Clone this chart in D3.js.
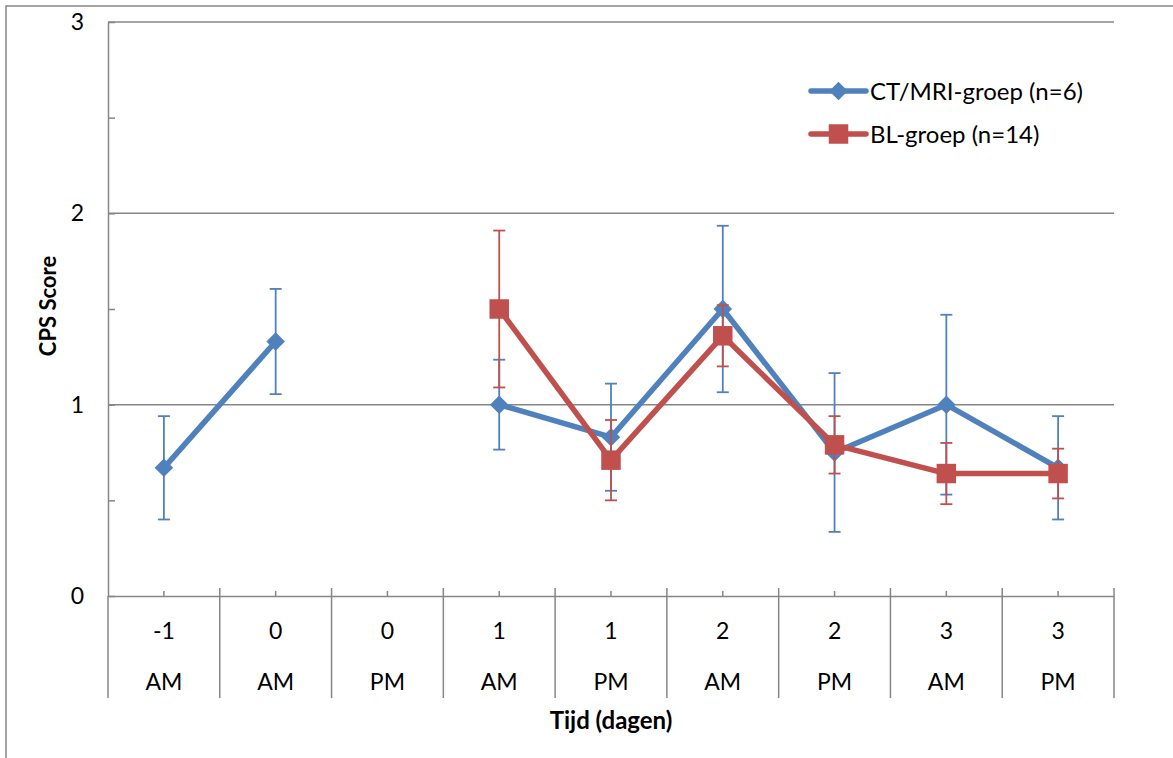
<!DOCTYPE html>
<html>
<head>
<meta charset="utf-8">
<script src="https://cdn.jsdelivr.net/npm/d3@7"></script>
<style>
  html, body { margin: 0; padding: 0; background: #fff; }
  svg { display: block; font-family: Lato, "Open Sans", sans-serif; }
</style>
</head>
<body>
<svg id="chart" width="1173" height="758"></svg>
<script>
// Category axis: day number (first row) and part of day (second row)
const dayLabels = ["-1", "0", "0", "1", "1", "2", "2", "3", "3"];
const periodLabels = ["AM", "AM", "PM", "AM", "PM", "AM", "PM", "AM", "PM"];

// Mean CPS score per moment (null = no measurement)
const ctMriMeans = [0.67, 1.33, null, 1.00, 0.83, 1.50, 0.75, 1.00, 0.67];
const ctMriErr   = [0.27, 0.275, null, 0.235, 0.28, 0.435, 0.415, 0.47, 0.27];
const blMeans    = [null, null, null, 1.50, 0.71, 1.36, 0.79, 0.64, 0.64];
const blErr      = [null, null, null, 0.41, 0.21, 0.16, 0.15, 0.16, 0.13];

const seriesNames = ["CT/MRI-groep (n=6)", "BL-groep (n=14)"];
const yTicks = [0, 0.5, 1, 1.5, 2, 2.5, 3];

const BLUE = "#4F81BD", RED = "#C0504D", GREY = "#868686";

const svg = d3.select("#chart");
const plotLeft = 108, plotRight = 1114, plotTop = 22, plotBottom = 596;

const x = d3.scaleBand().domain(d3.range(dayLabels.length)).range([plotLeft, plotRight]).padding(0);
const xc = i => x(i) + x.bandwidth() / 2;
const y = d3.scaleLinear().domain([0, 3]).range([plotBottom, plotTop]);

// outer chart frame
svg.append("rect")
  .attr("x", 6).attr("y", 6).attr("width", 1300).attr("height", 900)
  .attr("fill", "none").attr("stroke", GREY).attr("stroke-width", 1.5);

// horizontal gridlines
svg.append("g").selectAll("line").data([1, 2, 3]).join("line")
  .attr("x1", plotLeft).attr("x2", plotRight)
  .attr("y1", d => y(d)).attr("y2", d => y(d))
  .attr("stroke", GREY).attr("stroke-width", 1.5);

// y axis
const yAxis = svg.append("g").attr("transform", `translate(${plotLeft},0)`)
  .call(d3.axisLeft(y).tickValues(yTicks)
    .tickFormat(d => Number.isInteger(d) ? d : "")
    .tickSizeInner(-7).tickSizeOuter(0).tickPadding(24));
yAxis.select(".domain").attr("stroke", GREY).attr("stroke-width", 1.5);
yAxis.selectAll(".tick line").attr("stroke", GREY).attr("stroke-width", 1.5);
yAxis.selectAll(".tick text").attr("font-size", 23).attr("fill", "#000")
  .attr("font-family", "Lato, 'Open Sans', sans-serif");

// x axis with center ticks
const xAxis = svg.append("g").attr("transform", `translate(0,${plotBottom})`)
  .call(d3.axisBottom(x).tickFormat("").tickSizeInner(-5).tickSizeOuter(0));
xAxis.select(".domain").attr("stroke", GREY).attr("stroke-width", 1.5);
xAxis.selectAll(".tick line").attr("stroke", GREY).attr("stroke-width", 1.5);

// category separators
const bounds = d3.range(dayLabels.length + 1).map(i => plotLeft + i * x.bandwidth());
svg.append("g").selectAll("line").data(bounds).join("line")
  .attr("x1", d => d).attr("x2", d => d)
  .attr("y1", (d, i) => i === 0 ? plotBottom : plotBottom - 8).attr("y2", 698)
  .attr("stroke", GREY).attr("stroke-width", 1.5);

// category labels
svg.append("g").selectAll("text").data(dayLabels).join("text")
  .attr("x", (d, i) => xc(i)).attr("y", 639)
  .attr("text-anchor", "middle").attr("font-size", 23).text(d => d);
svg.append("g").selectAll("text").data(periodLabels).join("text")
  .attr("x", (d, i) => xc(i)).attr("y", 690)
  .attr("text-anchor", "middle").attr("font-size", 23).text(d => d);

// axis titles
svg.append("text").attr("x", 611).attr("y", 729)
  .attr("text-anchor", "middle").attr("font-size", 24).attr("font-weight", "bold")
  .text("Tijd (dagen)");
svg.append("text").attr("transform", `translate(56,306) rotate(-90)`)
  .attr("text-anchor", "middle").attr("font-size", 22).attr("font-weight", "bold")
  .text("CPS Score");

const diamond = d3.symbol().type(d3.symbolDiamond2).size(220);
const square = d3.symbol().type(d3.symbolSquare).size(380);

function drawSeries(means, errs, color, sym) {
  const g = svg.append("g");
  const pts = means.map((v, i) => ({ i, v, e: errs[i] })).filter(d => d.v !== null);

  // error bars
  const eb = g.append("g").attr("stroke", color).attr("stroke-width", 1.8);
  pts.forEach(d => {
    const cx = xc(d.i);
    eb.append("line").attr("x1", cx).attr("x2", cx).attr("y1", y(d.v - d.e)).attr("y2", y(d.v + d.e));
    [d.v - d.e, d.v + d.e].forEach(val => {
      eb.append("line").attr("x1", cx - 6).attr("x2", cx + 6).attr("y1", y(val)).attr("y2", y(val));
    });
  });

  // connecting line (gap where no data)
  const line = d3.line().defined(d => d.v !== null).x(d => xc(d.i)).y(d => y(d.v));
  g.append("path")
    .datum(means.map((v, i) => ({ i, v })))
    .attr("d", line).attr("fill", "none")
    .attr("stroke", color).attr("stroke-width", 5.5).attr("stroke-linejoin", "round");

  // markers
  g.append("g").selectAll("path").data(pts).join("path")
    .attr("d", sym)
    .attr("transform", d => `translate(${xc(d.i)},${y(d.v)})`)
    .attr("fill", color);
}

drawSeries(ctMriMeans, ctMriErr, BLUE, diamond);
drawSeries(blMeans, blErr, RED, square);

// legend
const legend = svg.append("g");
const legendItems = [
  { name: seriesNames[0], color: BLUE, sym: diamond, yPos: 91 },
  { name: seriesNames[1], color: RED, sym: square, yPos: 134 }
];
legendItems.forEach(item => {
  legend.append("line").attr("x1", 811).attr("x2", 866)
    .attr("y1", item.yPos).attr("y2", item.yPos)
    .attr("stroke", item.color).attr("stroke-width", 5.5).attr("stroke-linecap", "round");
  legend.append("path").attr("d", item.sym)
    .attr("transform", `translate(838.5,${item.yPos})`).attr("fill", item.color);
  legend.append("text").attr("x", 870).attr("y", item.yPos + 9)
    .attr("font-size", 24).text(item.name);
});
</script>
</body>
</html>
